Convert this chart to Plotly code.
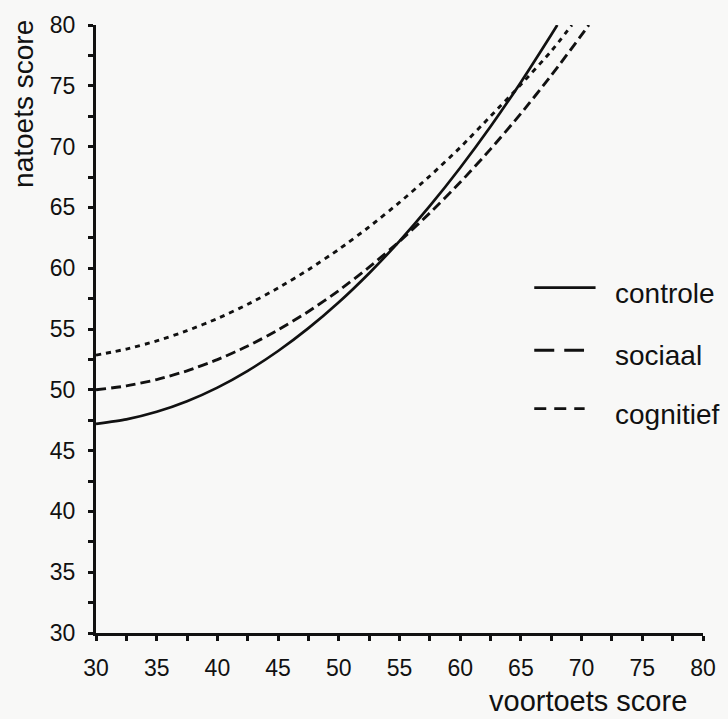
import plotly.graph_objects as go

# ---- data ----
x_controle = [30, 32.5, 35, 37.5, 40, 42.5, 45, 47.5, 50, 52.5, 55, 57.5, 60, 62.5, 65, 67.5, 68]
y_controle = [47.2, 47.57, 48.19, 49.06, 50.18, 51.56, 53.19, 55.07, 57.20, 59.59, 62.23, 65.12, 68.26, 71.65, 75.30, 79.20, 80.0]

x_sociaal = [30, 32.5, 35, 37.5, 40, 42.5, 45, 47.5, 50, 52.5, 55, 57.5, 60, 62.5, 65, 67.5, 70, 70.6]
y_sociaal = [50.0, 50.32, 50.84, 51.56, 52.48, 53.60, 54.92, 56.44, 58.16, 60.09, 62.21, 64.54, 67.06, 69.79, 72.72, 75.85, 79.18, 80.0]

x_cognitief = [30, 32.5, 35, 37.5, 40, 42.5, 45, 47.5, 50, 52.5, 55, 57.5, 60, 62.5, 65, 67.5, 69.2]
y_cognitief = [52.85, 53.35, 54.02, 54.86, 55.86, 57.03, 58.37, 59.88, 61.55, 63.40, 65.41, 67.58, 69.93, 72.5, 75.1, 77.85, 80.0]

series_names = ["controle", "sociaal", "cognitief"]
x_title = "voortoets score"
y_title = "natoets score"

INK = "#111111"
FONT = "Liberation Sans, Arial, Helvetica, sans-serif"
BG = "#f8f8f7"

fig = go.Figure()
styles = [("solid", 2.7), ("10px,5px", 2.9), ("5px,5px", 2.9)]
for (xs, ys), name, (dash, w) in zip(
        [(x_controle, y_controle), (x_sociaal, y_sociaal), (x_cognitief, y_cognitief)],
        series_names, styles):
    fig.add_trace(go.Scatter(x=xs, y=ys, mode="lines", name=name, showlegend=False,
                             line=dict(color=INK, width=w, dash=dash, shape="spline", smoothing=0.6)))

tickfont = dict(size=23, family=FONT, color=INK)
base = dict(range=[30, 80], showgrid=False, zeroline=False, tick0=30, dtick=5,
            tickcolor=INK, tickwidth=2.6, ticklen=5, fixedrange=True)
minor_out = dict(ticks="outside", dtick=2.5, tick0=30, ticklen=5, tickwidth=2.6, tickcolor=INK)
minor_in = dict(ticks="inside", dtick=2.5, tick0=30, ticklen=5, tickwidth=2.6, tickcolor=INK)

fig.update_layout(
    width=728, height=719,
    margin=dict(l=96, r=21, t=21, b=86),
    paper_bgcolor=BG, plot_bgcolor=BG,
    font=dict(family=FONT, color=INK),
    xaxis=dict(**base, showline=True, linecolor=INK, linewidth=3, ticks="outside",
               tickfont=tickfont, ticklabelstandoff=7, minor=minor_out),
    yaxis=dict(**base, showline=True, linecolor=INK, linewidth=3, ticks="outside",
               tickfont=tickfont, ticklabelstandoff=8, minor=minor_out),
    xaxis2=dict(**base, overlaying="x", anchor="y", side="bottom", ticks="inside",
                showticklabels=False, showline=False, minor=minor_in),
    yaxis2=dict(**base, overlaying="y", anchor="x", side="left", ticks="inside",
                showticklabels=False, showline=False, minor=minor_in),
)

# axis titles
fig.add_annotation(text=y_title, xref="paper", yref="paper", x=-0.1195, y=0.871,
                   textangle=-90, showarrow=False, xanchor="center", yanchor="middle",
                   font=dict(size=28, family=FONT, color=INK))
fig.add_annotation(text=x_title, xref="paper", yref="paper", x=0.81, y=-0.112,
                   showarrow=False, xanchor="center", yanchor="middle",
                   font=dict(size=29, family=FONT, color=INK))

# legend drawn by hand (long sample lines as in the reference)
leg_y = [0.568, 0.465, 0.369]
leg_x1 = [0.823, 0.804, 0.805]
leg_dash = ["solid", "20px,10px", "12px,8px"]
for name, yy, x1, dash in zip(series_names, leg_y, leg_x1, leg_dash):
    fig.add_shape(type="line", xref="paper", yref="paper", x0=0.722, x1=x1, y0=yy, y1=yy,
                  line=dict(color=INK, width=2.9, dash=dash))
    fig.add_annotation(text=name, xref="paper", yref="paper", x=0.851, y=yy - 0.009,
                       showarrow=False, xanchor="left", yanchor="middle",
                       font=dict(size=28, family=FONT, color=INK))

# remove the default 8px page margin so the 728x719 figure fills the window exactly
fig.write_html("out.html", config={"displayModeBar": False},
               post_script="document.body.style.margin='0';document.documentElement.style.overflow='hidden';")
